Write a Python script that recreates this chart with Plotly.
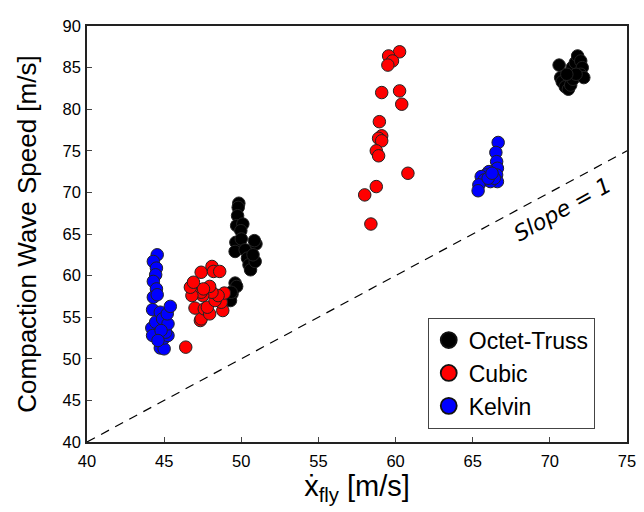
import plotly.graph_objects as go

# Octet-Truss
octet_x = [49.84, 49.8, 49.76, 49.7, 50.1, 49.97, 49.65, 50.0, 49.6, 50.25, 50.4, 50.5, 50.6, 50.9,
           50.95, 50.85, 50.76, 49.6, 49.7, 49.4, 49.3, 49.35,
           70.6, 70.7, 70.8, 71.0, 71.2, 71.35, 71.5, 71.45, 71.65, 71.8, 72.0, 72.1, 72.0, 72.2, 71.7, 71.1]
octet_y = [68.7, 68.2, 67.2, 66.0, 66.2, 65.4, 64.0, 64.4, 62.9, 63.1, 62.1, 61.3, 60.7, 61.7,
           63.8, 64.2, 62.5, 59.1, 58.7, 57.8, 57.0, 58.0,
           85.3, 83.8, 83.3, 82.7, 82.4, 82.9, 83.6, 85.0, 85.6, 86.4, 85.8, 85.0, 84.2, 83.8, 84.2, 84.2]

# Cubic
cubic_x = [60.26, 59.55, 59.8, 59.5, 59.1, 60.26, 60.4, 58.95, 59.1, 58.9, 59.1, 58.75, 58.9, 60.8,
           58.75, 58.0, 58.4,
           46.4, 47.35, 47.4, 47.0, 47.6, 47.95, 47.8, 48.8, 48.7, 48.3, 48.9, 48.5, 48.1, 47.95, 47.5,
           47.4, 47.55, 46.8, 46.7, 46.9, 47.4, 48.1, 48.2, 48.6]
cubic_y = [86.9, 86.4, 85.8, 85.3, 82.0, 82.2, 80.6, 78.5, 76.8, 76.5, 76.2, 75.0, 74.4, 72.3,
           70.7, 69.7, 66.2,
           51.4, 54.6, 54.8, 56.1, 56.0, 55.4, 56.2, 55.8, 56.8, 57.0, 57.9, 57.6, 58.0, 58.7, 57.6,
           58.0, 58.4, 57.6, 58.6, 59.2, 60.4, 61.1, 60.5, 60.5]

# Kelvin
kelvin_x = [44.55, 44.3, 44.5, 44.45, 44.3, 44.5, 44.3, 44.55, 44.25, 44.2, 44.25, 44.45, 44.75,
            44.9, 44.75, 45.0, 45.0, 45.25, 45.1, 45.25, 45.2, 45.4, 44.8, 44.6,
            66.65, 66.5, 66.55, 66.6, 66.55, 66.6, 66.05, 65.85, 65.55, 65.75, 66.15, 66.4, 65.4,
            65.35, 66.0, 66.25]
kelvin_y = [62.5, 61.7, 60.9, 60.1, 59.3, 58.4, 57.4, 57.7, 55.9, 53.7, 52.8, 54.4, 55.6,
            54.8, 51.3, 51.2, 52.5, 52.8, 53.2, 54.2, 55.4, 56.3, 53.4, 52.2,
            76.0, 74.8, 73.7, 72.9, 72.1, 71.3, 72.5, 72.1, 71.9, 71.5, 71.3, 71.7, 70.9,
            70.2, 71.7, 72.3]

series_names = ["Octet-Truss", "Cubic", "Kelvin"]
series_colors = ["#000000", "#ff0000", "#0000ff"]

slope_x = [40, 75]
slope_y = [40, 75]

x_ticks = [40, 45, 50, 55, 60, 65, 70, 75]
y_ticks = [40, 45, 50, 55, 60, 65, 70, 75, 80, 85, 90]

fig = go.Figure()
fig.add_trace(go.Scatter(x=slope_x, y=slope_y, mode="lines", showlegend=False,
                         line=dict(color="black", width=1.2, dash="9px,7px"), hoverinfo="skip"))
for name, xs, ys, col in zip(series_names, [octet_x, cubic_x, kelvin_x],
                             [octet_y, cubic_y, kelvin_y], series_colors):
    fig.add_trace(go.Scatter(x=xs, y=ys, mode="markers", name=name, showlegend=False,
                             marker=dict(color=col, size=12.5, line=dict(color="#222222", width=1))))
# legend entries (larger legend symbols)
for name, col in zip(series_names, series_colors):
    fig.add_trace(go.Scatter(x=[None], y=[None], mode="markers", name=name, legendgroup=name,
                             marker=dict(color=col, size=20, line=dict(color="#111111", width=1.8))))

fig.add_annotation(x=70.8, y=67.9, text="<i>Slope = 1</i>", showarrow=False, textangle=-29,
                   font=dict(family="DejaVu Sans", size=22, color="black"))

axis_common = dict(showgrid=False, zeroline=False, showline=True, linecolor="#222222", linewidth=1.5,
                   mirror=True, ticks="inside", ticklen=5, tickcolor="#444444",
                   tickfont=dict(family="Liberation Sans", size=16.5, color="black"))
fig.update_xaxes(range=[40, 75], tickvals=x_ticks, ticklabelstandoff=3,
                 title=dict(text="ẋ<sub>fly</sub> [m/s]",
                            font=dict(family="Liberation Sans", size=29, color="black"), standoff=2),
                 **axis_common)
fig.update_yaxes(range=[40, 90], tickvals=y_ticks, ticklabelstandoff=1,
                 title=dict(text="Compaction Wave Speed [m/s]",
                            font=dict(family="Liberation Sans", size=26, color="black"), standoff=18),
                 **axis_common)

fig.update_layout(
    width=644, height=512, plot_bgcolor="white", paper_bgcolor="white",
    margin=dict(l=79, r=25, t=9, b=78),
    legend=dict(x=0.631, y=0.299, xanchor="left", yanchor="top", bgcolor="white",
                bordercolor="#444444", borderwidth=1,
                font=dict(family="Liberation Sans", size=23, color="black"),
                itemsizing="trace", tracegroupgap=0, entrywidth=135),
)
fig.write_html("out.html")
